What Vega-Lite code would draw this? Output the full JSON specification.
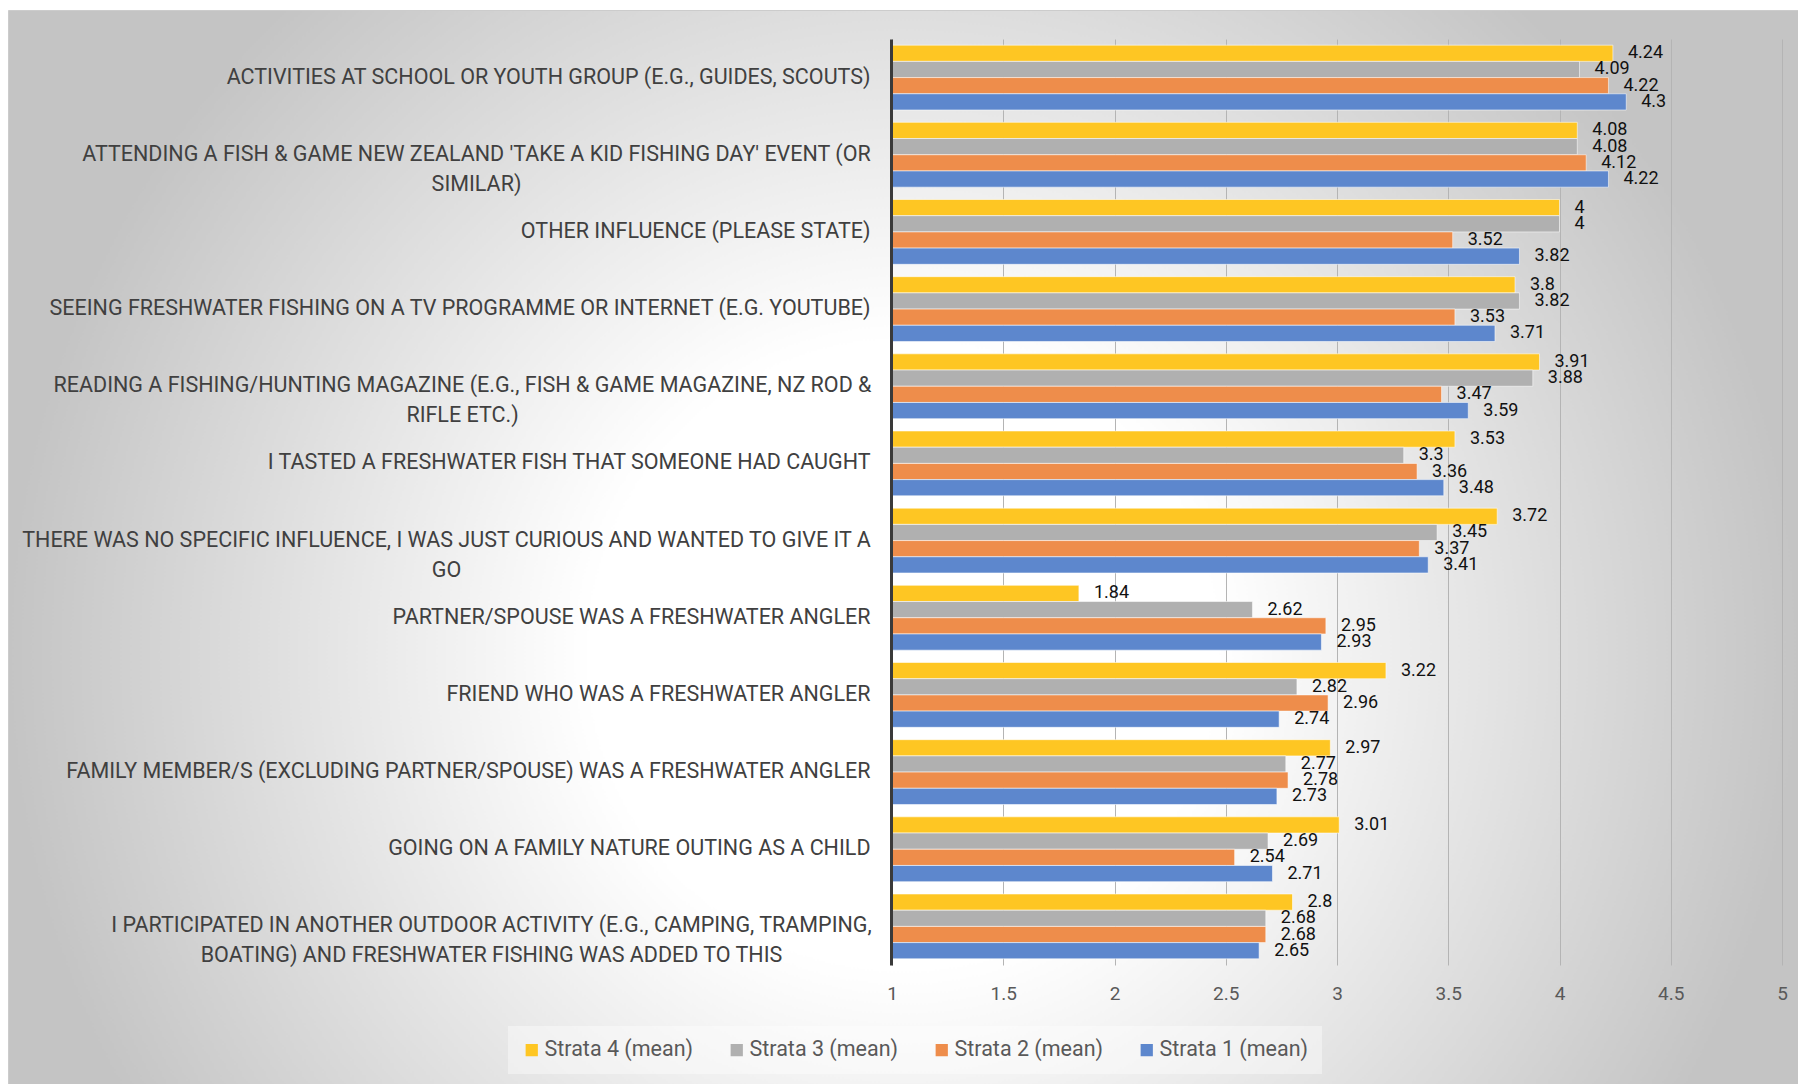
{
  "$schema": "https://vega.github.io/schema/vega-lite/v6.json",
  "width": 1798,
  "height": 1084,
  "autosize": {"type": "fit", "contains": "padding"},
  "padding": {"left": 8, "top": 10, "right": 0, "bottom": 0},
  "background": "#ffffff",
  "view": {
    "fill": {
      "gradient": "radial",
      "x1": 0.5, "y1": 0.56, "r1": 0,
      "x2": 0.5, "y2": 0.56, "r2": 0.5,
      "stops": [
        {"offset": 0, "color": "#ffffff"},
        {"offset": 0.35, "color": "#ffffff"},
        {"offset": 1, "color": "#c4c4c4"}
      ]
    },
    "stroke": "#cccccc"
  },
  "data": {
    "values": [
      {"influence": "ACTIVITIES AT SCHOOL OR YOUTH GROUP (E.G., GUIDES, SCOUTS)", "series": "Strata 4 (mean)", "mean": 4.24},
      {"influence": "ACTIVITIES AT SCHOOL OR YOUTH GROUP (E.G., GUIDES, SCOUTS)", "series": "Strata 3 (mean)", "mean": 4.09},
      {"influence": "ACTIVITIES AT SCHOOL OR YOUTH GROUP (E.G., GUIDES, SCOUTS)", "series": "Strata 2 (mean)", "mean": 4.22},
      {"influence": "ACTIVITIES AT SCHOOL OR YOUTH GROUP (E.G., GUIDES, SCOUTS)", "series": "Strata 1 (mean)", "mean": 4.3},
      {"influence": "ATTENDING A FISH & GAME NEW ZEALAND 'TAKE A KID FISHING DAY' EVENT (OR SIMILAR)", "series": "Strata 4 (mean)", "mean": 4.08},
      {"influence": "ATTENDING A FISH & GAME NEW ZEALAND 'TAKE A KID FISHING DAY' EVENT (OR SIMILAR)", "series": "Strata 3 (mean)", "mean": 4.08},
      {"influence": "ATTENDING A FISH & GAME NEW ZEALAND 'TAKE A KID FISHING DAY' EVENT (OR SIMILAR)", "series": "Strata 2 (mean)", "mean": 4.12},
      {"influence": "ATTENDING A FISH & GAME NEW ZEALAND 'TAKE A KID FISHING DAY' EVENT (OR SIMILAR)", "series": "Strata 1 (mean)", "mean": 4.22},
      {"influence": "OTHER INFLUENCE (PLEASE STATE)", "series": "Strata 4 (mean)", "mean": 4},
      {"influence": "OTHER INFLUENCE (PLEASE STATE)", "series": "Strata 3 (mean)", "mean": 4},
      {"influence": "OTHER INFLUENCE (PLEASE STATE)", "series": "Strata 2 (mean)", "mean": 3.52},
      {"influence": "OTHER INFLUENCE (PLEASE STATE)", "series": "Strata 1 (mean)", "mean": 3.82},
      {"influence": "SEEING FRESHWATER FISHING ON A TV PROGRAMME OR INTERNET (E.G. YOUTUBE)", "series": "Strata 4 (mean)", "mean": 3.8},
      {"influence": "SEEING FRESHWATER FISHING ON A TV PROGRAMME OR INTERNET (E.G. YOUTUBE)", "series": "Strata 3 (mean)", "mean": 3.82},
      {"influence": "SEEING FRESHWATER FISHING ON A TV PROGRAMME OR INTERNET (E.G. YOUTUBE)", "series": "Strata 2 (mean)", "mean": 3.53},
      {"influence": "SEEING FRESHWATER FISHING ON A TV PROGRAMME OR INTERNET (E.G. YOUTUBE)", "series": "Strata 1 (mean)", "mean": 3.71},
      {"influence": "READING A FISHING/HUNTING MAGAZINE (E.G., FISH & GAME MAGAZINE, NZ ROD & RIFLE ETC.)", "series": "Strata 4 (mean)", "mean": 3.91},
      {"influence": "READING A FISHING/HUNTING MAGAZINE (E.G., FISH & GAME MAGAZINE, NZ ROD & RIFLE ETC.)", "series": "Strata 3 (mean)", "mean": 3.88},
      {"influence": "READING A FISHING/HUNTING MAGAZINE (E.G., FISH & GAME MAGAZINE, NZ ROD & RIFLE ETC.)", "series": "Strata 2 (mean)", "mean": 3.47},
      {"influence": "READING A FISHING/HUNTING MAGAZINE (E.G., FISH & GAME MAGAZINE, NZ ROD & RIFLE ETC.)", "series": "Strata 1 (mean)", "mean": 3.59},
      {"influence": "I TASTED A FRESHWATER FISH THAT SOMEONE HAD CAUGHT", "series": "Strata 4 (mean)", "mean": 3.53},
      {"influence": "I TASTED A FRESHWATER FISH THAT SOMEONE HAD CAUGHT", "series": "Strata 3 (mean)", "mean": 3.3},
      {"influence": "I TASTED A FRESHWATER FISH THAT SOMEONE HAD CAUGHT", "series": "Strata 2 (mean)", "mean": 3.36},
      {"influence": "I TASTED A FRESHWATER FISH THAT SOMEONE HAD CAUGHT", "series": "Strata 1 (mean)", "mean": 3.48},
      {"influence": "THERE WAS NO SPECIFIC INFLUENCE, I WAS JUST CURIOUS AND WANTED TO GIVE IT A GO", "series": "Strata 4 (mean)", "mean": 3.72},
      {"influence": "THERE WAS NO SPECIFIC INFLUENCE, I WAS JUST CURIOUS AND WANTED TO GIVE IT A GO", "series": "Strata 3 (mean)", "mean": 3.45},
      {"influence": "THERE WAS NO SPECIFIC INFLUENCE, I WAS JUST CURIOUS AND WANTED TO GIVE IT A GO", "series": "Strata 2 (mean)", "mean": 3.37},
      {"influence": "THERE WAS NO SPECIFIC INFLUENCE, I WAS JUST CURIOUS AND WANTED TO GIVE IT A GO", "series": "Strata 1 (mean)", "mean": 3.41},
      {"influence": "PARTNER/SPOUSE WAS A FRESHWATER ANGLER", "series": "Strata 4 (mean)", "mean": 1.84},
      {"influence": "PARTNER/SPOUSE WAS A FRESHWATER ANGLER", "series": "Strata 3 (mean)", "mean": 2.62},
      {"influence": "PARTNER/SPOUSE WAS A FRESHWATER ANGLER", "series": "Strata 2 (mean)", "mean": 2.95},
      {"influence": "PARTNER/SPOUSE WAS A FRESHWATER ANGLER", "series": "Strata 1 (mean)", "mean": 2.93},
      {"influence": "FRIEND WHO WAS A FRESHWATER ANGLER", "series": "Strata 4 (mean)", "mean": 3.22},
      {"influence": "FRIEND WHO WAS A FRESHWATER ANGLER", "series": "Strata 3 (mean)", "mean": 2.82},
      {"influence": "FRIEND WHO WAS A FRESHWATER ANGLER", "series": "Strata 2 (mean)", "mean": 2.96},
      {"influence": "FRIEND WHO WAS A FRESHWATER ANGLER", "series": "Strata 1 (mean)", "mean": 2.74},
      {"influence": "FAMILY MEMBER/S (EXCLUDING PARTNER/SPOUSE) WAS A FRESHWATER ANGLER", "series": "Strata 4 (mean)", "mean": 2.97},
      {"influence": "FAMILY MEMBER/S (EXCLUDING PARTNER/SPOUSE) WAS A FRESHWATER ANGLER", "series": "Strata 3 (mean)", "mean": 2.77},
      {"influence": "FAMILY MEMBER/S (EXCLUDING PARTNER/SPOUSE) WAS A FRESHWATER ANGLER", "series": "Strata 2 (mean)", "mean": 2.78},
      {"influence": "FAMILY MEMBER/S (EXCLUDING PARTNER/SPOUSE) WAS A FRESHWATER ANGLER", "series": "Strata 1 (mean)", "mean": 2.73},
      {"influence": "GOING ON A FAMILY NATURE OUTING AS A CHILD", "series": "Strata 4 (mean)", "mean": 3.01},
      {"influence": "GOING ON A FAMILY NATURE OUTING AS A CHILD", "series": "Strata 3 (mean)", "mean": 2.69},
      {"influence": "GOING ON A FAMILY NATURE OUTING AS A CHILD", "series": "Strata 2 (mean)", "mean": 2.54},
      {"influence": "GOING ON A FAMILY NATURE OUTING AS A CHILD", "series": "Strata 1 (mean)", "mean": 2.71},
      {"influence": "I PARTICIPATED IN ANOTHER OUTDOOR ACTIVITY (E.G., CAMPING, TRAMPING, BOATING) AND FRESHWATER FISHING WAS ADDED TO THIS", "series": "Strata 4 (mean)", "mean": 2.8},
      {"influence": "I PARTICIPATED IN ANOTHER OUTDOOR ACTIVITY (E.G., CAMPING, TRAMPING, BOATING) AND FRESHWATER FISHING WAS ADDED TO THIS", "series": "Strata 3 (mean)", "mean": 2.68},
      {"influence": "I PARTICIPATED IN ANOTHER OUTDOOR ACTIVITY (E.G., CAMPING, TRAMPING, BOATING) AND FRESHWATER FISHING WAS ADDED TO THIS", "series": "Strata 2 (mean)", "mean": 2.68},
      {"influence": "I PARTICIPATED IN ANOTHER OUTDOOR ACTIVITY (E.G., CAMPING, TRAMPING, BOATING) AND FRESHWATER FISHING WAS ADDED TO THIS", "series": "Strata 1 (mean)", "mean": 2.65}
    ]
  },
  "encoding": {
    "y": {
      "field": "influence",
      "type": "nominal",
      "sort": null,
      "scale": {"range": [29, 955], "paddingInner": 0.16, "paddingOuter": 0.08},
      "axis": {
        "title": null,
        "orient": "left",
        "offset": -883,
        "zindex": 1,
        "grid": false,
        "ticks": false,
        "domain": true,
        "domainColor": "#3a3a3a",
        "domainWidth": 3,
        "labelFont": "Roboto",
        "labelFontSize": 21.5,
        "labelColor": "#404040",
        "labelLimit": 1000,
        "labelLineHeight": 30,
        "labelBaseline": "middle",
        "labelExpr": "indexof(datum.value,'ATTENDING')==0 ? [\"ATTENDING A FISH & GAME NEW ZEALAND 'TAKE A KID FISHING DAY' EVENT (OR\", \"SIMILAR)\"] : indexof(datum.value,'READING')==0 ? [\"READING A FISHING/HUNTING MAGAZINE (E.G., FISH & GAME MAGAZINE, NZ ROD &\", \"RIFLE ETC.)\"] : indexof(datum.value,'THERE WAS')==0 ? [\"THERE WAS NO SPECIFIC INFLUENCE, I WAS JUST CURIOUS AND WANTED TO GIVE IT A\", \"GO\"] : indexof(datum.value,'I PARTICIPATED')==0 ? [\"I PARTICIPATED IN ANOTHER OUTDOOR ACTIVITY (E.G., CAMPING, TRAMPING,\", \"BOATING) AND FRESHWATER FISHING WAS ADDED TO THIS\"] : datum.value",
        "labelAlign": {
          "condition": {"test": "indexof(datum.value,'ATTENDING')==0 || indexof(datum.value,'READING')==0 || indexof(datum.value,'THERE WAS')==0 || indexof(datum.value,'I PARTICIPATED')==0", "value": "center"},
          "value": "right"
        },
        "labelPadding": {
          "condition": [
            {"test": "indexof(datum.value,'ATTENDING')==0", "value": 415},
            {"test": "indexof(datum.value,'READING')==0", "value": 429},
            {"test": "indexof(datum.value,'THERE WAS')==0", "value": 445},
            {"test": "indexof(datum.value,'I PARTICIPATED')==0", "value": 400}
          ],
          "value": 21
        }
      }
    },
    "yOffset": {
      "field": "series",
      "type": "nominal",
      "sort": ["Strata 4 (mean)", "Strata 3 (mean)", "Strata 2 (mean)", "Strata 1 (mean)"],
      "scale": {"paddingInner": 0, "paddingOuter": 0}
    },
    "x": {
      "field": "mean",
      "type": "quantitative",
      "stack": null,
      "scale": {"domain": [1, 5], "range": [884, 1774], "nice": false, "zero": false},
      "axis": {
        "title": null,
        "orient": "bottom",
        "offset": -119,
        "values": [1, 1.5, 2, 2.5, 3, 3.5, 4, 4.5, 5],
        "format": "~g",
        "grid": false,
        "domain": false,
        "ticks": true,
        "tickSize": -926,
        "tickColor": "#b4b4b4",
        "tickWidth": 1,
        "labelFlush": false,
        "labelOverlap": false,
        "labelFont": "Roboto",
        "labelFontSize": 19,
        "labelColor": "#595959",
        "labelPadding": 945
      }
    }
  },
  "layer": [
    {
      "mark": {"type": "bar", "stroke": "#ffffff", "strokeOpacity": 0.55, "strokeWidth": 1},
      "encoding": {
        "x2": {"datum": 1},
        "color": {
          "field": "series",
          "type": "nominal",
          "sort": ["Strata 4 (mean)", "Strata 3 (mean)", "Strata 2 (mean)", "Strata 1 (mean)"],
          "scale": {
            "domain": ["Strata 4 (mean)", "Strata 3 (mean)", "Strata 2 (mean)", "Strata 1 (mean)"],
            "range": ["#fec623", "#b0b0b0", "#ee8d4b", "#5d87cd"]
          },
          "legend": {
            "title": null,
            "orient": "none",
            "legendX": 500,
            "legendY": 1016,
            "direction": "horizontal",
            "columns": 4,
            "symbolType": "square",
            "symbolSize": 150,
            "symbolStrokeWidth": 0,
            "labelFont": "Roboto",
            "labelFontSize": 21.5,
            "labelColor": "#595959",
            "labelOffset": 2,
            "columnPadding": 32,
            "padding": 13,
            "fillColor": "rgba(255,255,255,0.4)"
          }
        }
      }
    },
    {
      "mark": {"type": "text", "align": "left", "baseline": "middle", "dx": 15, "font": "Roboto", "fontSize": 18, "color": "#111111"},
      "encoding": {
        "text": {"field": "mean", "type": "quantitative", "format": "~g"}
      }
    }
  ]
}
